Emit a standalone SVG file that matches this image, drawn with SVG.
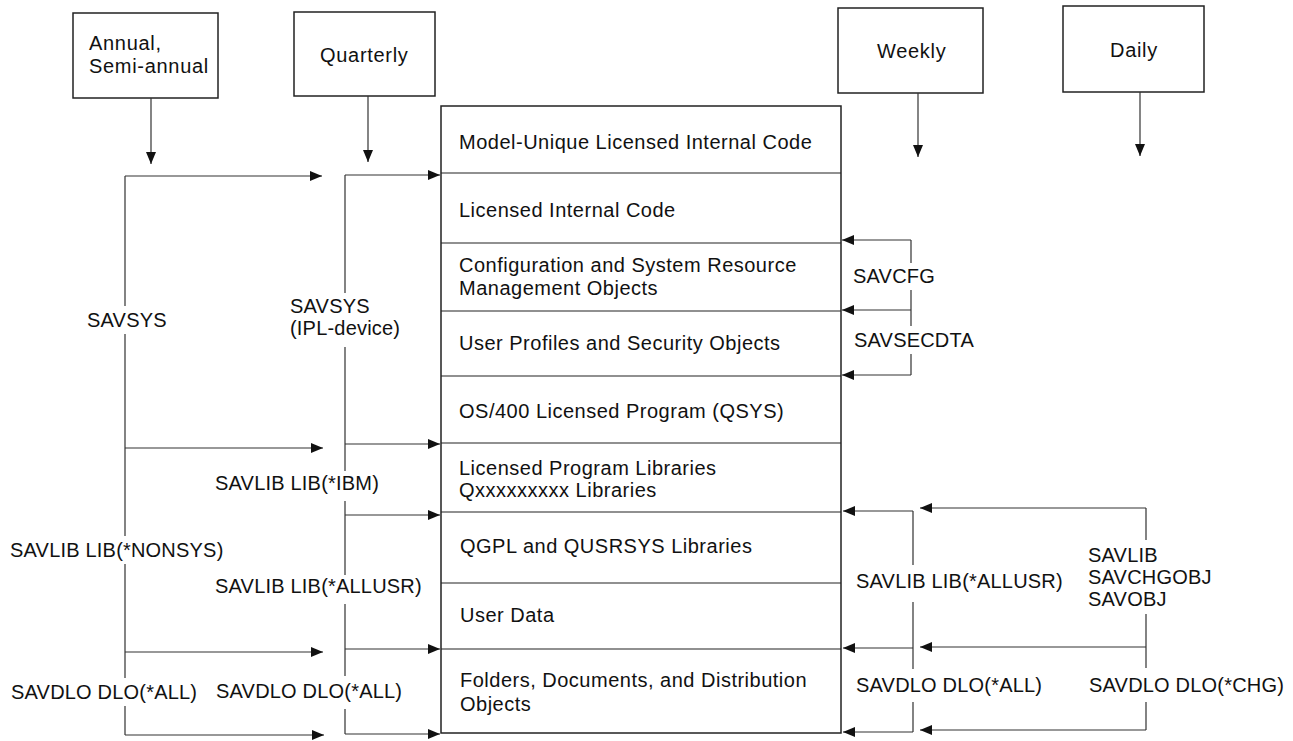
<svg xmlns="http://www.w3.org/2000/svg" width="1293" height="741" viewBox="0 0 1293 741">
  <style>
    text { font-family: "Liberation Sans", Arial, Helvetica, sans-serif; font-size: 20px; fill: #111; }
    .title { letter-spacing: 0.7px; }
    .layer { letter-spacing: 0.5px; }
    .cmd { letter-spacing: 0.2px; }
    .box { fill: #fff; stroke: #222; stroke-width: 1.5; }
    .div { stroke: #222; stroke-width: 1.2; fill: none; }
    .ln { stroke: #333; stroke-width: 1.2; fill: none; }
    .arr { stroke: #333; stroke-width: 1.2; fill: none; marker-end: url(#tip); }
  </style>
  <defs>
    <marker id="tip" markerUnits="userSpaceOnUse" markerWidth="12" markerHeight="10" refX="12" refY="5" orient="auto">
      <path d="M0,0 L12,5 L0,10 z" fill="#111"/>
    </marker>
  </defs>

  <rect width="1293" height="741" fill="#fff"/>

  <!-- schedule boxes -->
  <g id="annual">
    <rect class="box" x="73" y="13" width="145" height="85"/>
    <text class="title" x="89" y="50">Annual,</text>
    <text class="title" x="89" y="73">Semi-annual</text>
  </g>
  <g id="quarterly">
    <rect class="box" x="294" y="12" width="141" height="84"/>
    <text class="title" x="320" y="62">Quarterly</text>
  </g>
  <g id="weekly">
    <rect class="box" x="838" y="8" width="145" height="85"/>
    <text class="title" x="877" y="58">Weekly</text>
  </g>
  <g id="daily">
    <rect class="box" x="1063" y="6" width="141" height="86"/>
    <text class="title" x="1110" y="57">Daily</text>
  </g>

  <!-- stacked storage layers -->
  <g id="storage">
    <rect class="box" x="441" y="106" width="400" height="627"/>
    <path class="div" d="M441,173H841 M441,243H841 M441,311H841 M441,376H841 M441,443H841 M441,512H841 M441,583H841 M441,649H841"/>
    <text class="layer" x="459" y="149">Model-Unique Licensed Internal Code</text>
    <text class="layer" x="459" y="217">Licensed Internal Code</text>
    <text class="layer" x="459" y="272">Configuration and System Resource</text>
    <text class="layer" x="459" y="295">Management Objects</text>
    <text class="layer" x="459" y="350">User Profiles and Security Objects</text>
    <text class="layer" x="459" y="418">OS/400 Licensed Program (QSYS)</text>
    <text class="layer" x="459" y="475">Licensed Program Libraries</text>
    <text class="layer" x="459" y="497">Qxxxxxxxxx Libraries</text>
    <text class="layer" x="460" y="553">QGPL and QUSRSYS Libraries</text>
    <text class="layer" x="460" y="622">User Data</text>
    <text class="layer" x="460" y="687">Folders, Documents, and Distribution</text>
    <text class="layer" x="460" y="711">Objects</text>
  </g>

  <!-- command connectors -->
  <g id="connectors">
    <!-- schedule drops -->
    <path class="arr" d="M151,98V164"/>
    <path class="arr" d="M368,96V162"/>
    <path class="arr" d="M918,93V157"/>
    <path class="arr" d="M1140,92V156"/>

    <!-- annual bracket -->
    <path class="ln" d="M125,176V306 M125,334V536 M125,564V678 M125,706V735"/>
    <path class="arr" d="M125,176H322"/>
    <path class="arr" d="M125,448H323"/>
    <path class="arr" d="M125,652H323"/>
    <path class="arr" d="M125,735H324"/>

    <!-- quarterly bracket -->
    <path class="ln" d="M345,175V293 M345,347V471 M345,501V575 M345,604V676 M345,709V734"/>
    <path class="arr" d="M345,175H440"/>
    <path class="arr" d="M345,444H440"/>
    <path class="arr" d="M345,515H440"/>
    <path class="arr" d="M345,649H440"/>
    <path class="arr" d="M345,734H440"/>

    <!-- weekly brackets -->
    <path class="ln" d="M911,240V263 M911,290V326 M911,354V375"/>
    <path class="arr" d="M911,240H842"/>
    <path class="arr" d="M911,310H842"/>
    <path class="arr" d="M911,375H842"/>
    <path class="ln" d="M913,511V565 M913,602V669 M913,702V732"/>
    <path class="arr" d="M913,511H843"/>
    <path class="arr" d="M913,648H843"/>
    <path class="arr" d="M913,732H843"/>

    <!-- daily bracket -->
    <path class="ln" d="M1146,508V540 M1146,614V668 M1146,702V730"/>
    <path class="arr" d="M1146,508H920"/>
    <path class="arr" d="M1146,647H920"/>
    <path class="arr" d="M1146,730H920"/>
  </g>

  <!-- command labels -->
  <g id="labels">
    <text class="cmd" x="87" y="327">SAVSYS</text>
    <text class="cmd" x="10" y="557">SAVLIB LIB(*NONSYS)</text>
    <text class="cmd" x="11" y="699">SAVDLO DLO(*ALL)</text>

    <text class="cmd" x="290" y="313">SAVSYS</text>
    <text class="cmd" x="290" y="335">(IPL-device)</text>
    <text class="cmd" x="215" y="490">SAVLIB LIB(*IBM)</text>
    <text class="cmd" x="215" y="593">SAVLIB LIB(*ALLUSR)</text>
    <text class="cmd" x="216" y="698">SAVDLO DLO(*ALL)</text>

    <text class="cmd" x="853" y="283">SAVCFG</text>
    <text class="cmd" x="854" y="347">SAVSECDTA</text>
    <text class="cmd" x="856" y="588">SAVLIB LIB(*ALLUSR)</text>
    <text class="cmd" x="856" y="692">SAVDLO DLO(*ALL)</text>

    <text class="cmd" x="1088" y="562">SAVLIB</text>
    <text class="cmd" x="1088" y="584">SAVCHGOBJ</text>
    <text class="cmd" x="1088" y="606">SAVOBJ</text>
    <text class="cmd" x="1089" y="692">SAVDLO DLO(*CHG)</text>
  </g>
</svg>
